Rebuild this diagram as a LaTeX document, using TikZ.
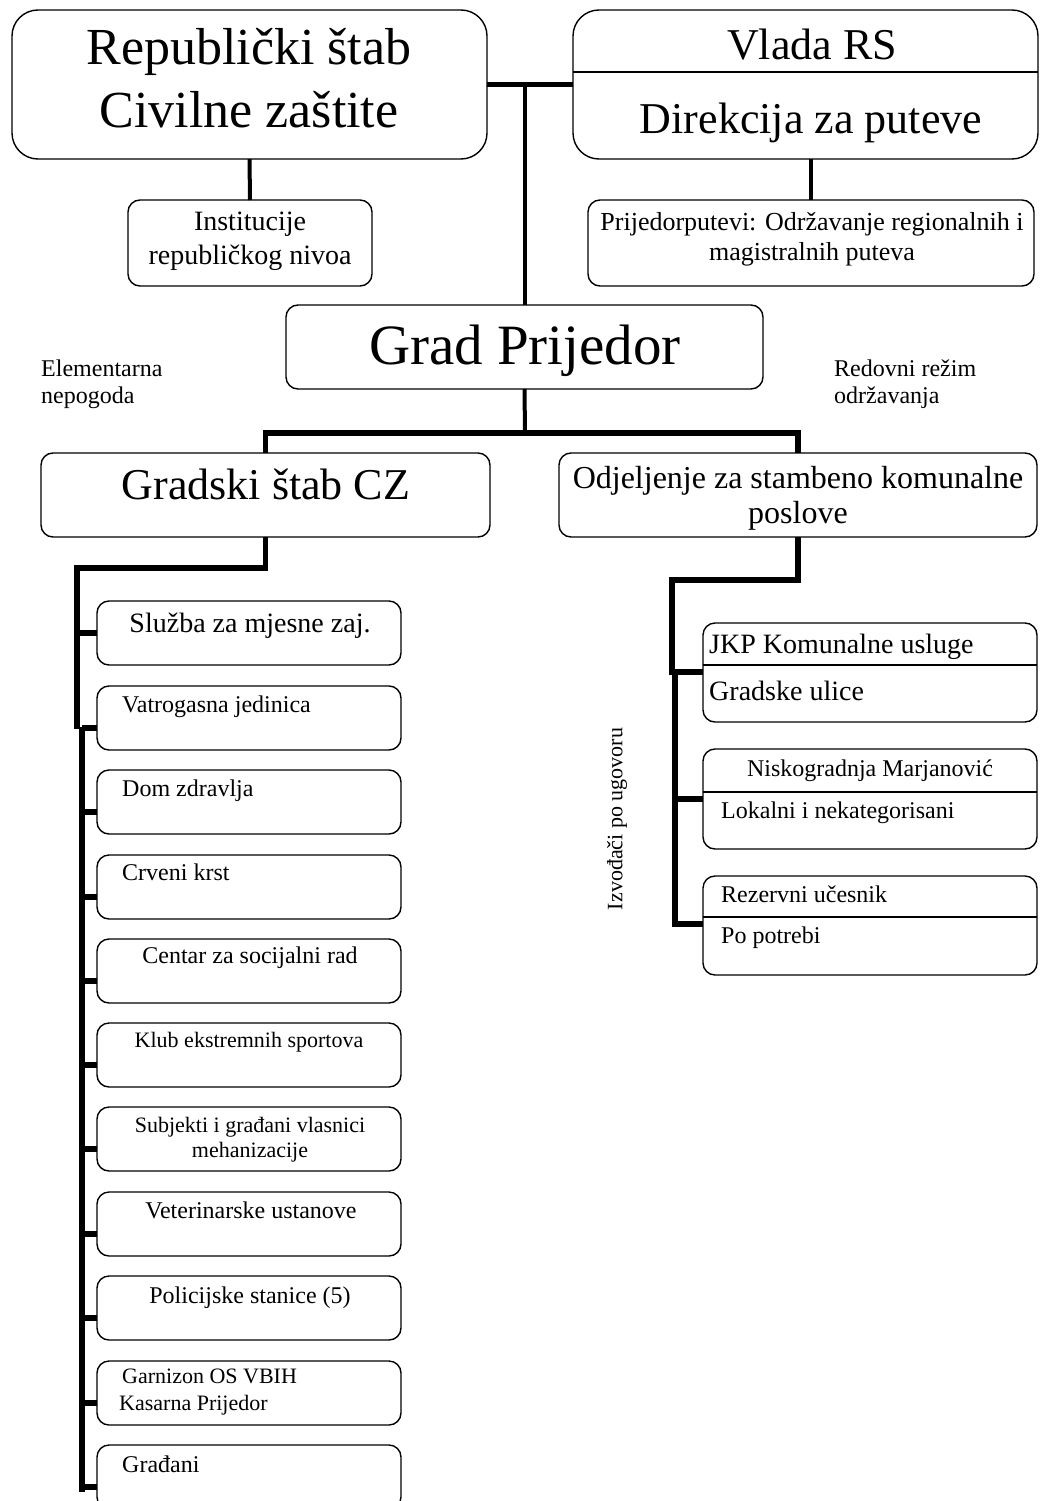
\documentclass[tikz,border=0pt]{standalone}
\usepackage{fontspec}
\setmainfont{Liberation Serif}
\newcommand\myfs[1]{\fontsize{#1}{#1}\selectfont}
\begin{document}
\begin{tikzpicture}[x=1pt,y=-1pt,
  box/.style={draw, line width=1.4pt, rounded corners=12pt, inner sep=0pt, outer sep=0pt, anchor=north west},
  bigbox/.style={box, rounded corners=26pt},
  lbox/.style={box, minimum width=304pt, minimum height=64pt},
  rbox/.style={box, minimum width=334pt, minimum height=99pt},
  conn/.style={line width=5.5pt},
  thin conn/.style={line width=4pt},
  divider/.style={line width=1.4pt},
  t/.style={inner sep=0pt, anchor=base},
  tl/.style={inner sep=0pt, anchor=base west}]
\useasboundingbox (0,0) rectangle (1039,1501);

% ---------- top level ----------
\node[bigbox, minimum width=475pt, minimum height=149pt] (rep) at (12,10) {};
\node[t] (rep1) at (249,65) {\myfs{52}Republički štab};
\node[t] (rep2) at (249,128) {\myfs{52}Civilne zaštite};

\node[bigbox, minimum width=465pt, minimum height=149pt] (vlada) at (573,10) {};
\draw[divider] (vlada.west |- 0,72) -- (vlada.east |- 0,72);
\node[t] (vl1) at (812,60) {\myfs{44}Vlada RS};
\node[t] (vl2) at (811,133) {\myfs{44}Direkcija za puteve};

\node[box, minimum width=244pt, minimum height=86pt] (inst) at (128,200) {};
\node[t] (in1) at (250,230) {\myfs{28}Institucije};
\node[t] (in2) at (250,264) {\myfs{28}republičkog nivoa};

\node[box, minimum width=446pt, minimum height=86pt] (put) at (588,200) {};
\node[t] (pu1) at (812,230) {\myfs{26}Prijedorputevi: Održavanje regionalnih i};
\node[t] (pu2) at (812,260) {\myfs{26}magistralnih puteva};

\node[box, minimum width=477pt, minimum height=84pt] (grad) at (286,305) {};
\node[t] (gr) at (525,364) {\myfs{57}Grad Prijedor};

\node[tl] (el1) at (41,376) {\myfs{24}Elementarna};
\node[tl] (el2) at (41,403) {\myfs{24}nepogoda};
\node[tl] (re1) at (834,376) {\myfs{24}Redovni režim};
\node[tl] (re2) at (834,403) {\myfs{24}održavanja};

\node[box, minimum width=449pt, minimum height=84pt] (gradski) at (41,453) {};
\node[t] (gs) at (266,499) {\myfs{44}Gradski štab CZ};

\node[box, minimum width=478pt, minimum height=84pt] (odj) at (559,453) {};
\node[t] (od1) at (798,488) {\myfs{32}Odjeljenje za stambeno komunalne};
\node[t] (od2) at (798,523) {\myfs{32}poslove};

% top connectors
\draw[conn] (rep.east) -- (vlada.west);
\draw[thin conn] (grad.north) -- (grad.north |- rep.east);
\draw[thin conn] (rep.south) -- (inst.north);
\draw[thin conn] (put.north) -- (put.north |- vlada.south);
\coordinate (j1) at (525,433);
\draw[thin conn] (grad.south) -- (j1);
\draw[conn] (gradski.north) |- (j1) -| (odj.north);

% ---------- left column ----------
\node[lbox] (l1) at (97,601) {};
\node[lbox] (l2) at (97,686) {};
\node[lbox] (l3) at (97,770) {};
\node[lbox] (l4) at (97,855) {};
\node[lbox] (l5) at (97,939) {};
\node[lbox] (l6) at (97,1023) {};
\node[lbox] (l7) at (97,1107) {};
\node[lbox] (l8) at (97,1192) {};
\node[lbox] (l9) at (97,1276) {};
\node[lbox] (l10) at (97,1361) {};
\node[lbox] (l11) at (97,1445) {};

\node[t] (tl1) at (250,632) {\myfs{28}Služba za mjesne zaj.};
\node[tl] (tl2) at (122,712) {\myfs{24}Vatrogasna jedinica};
\node[tl] (tl3) at (122,796) {\myfs{24}Dom zdravlja};
\node[tl] (tl4) at (122,880) {\myfs{24}Crveni krst};
\node[t] (tl5) at (250,963) {\myfs{24}Centar za socijalni rad};
\node[t] (tl6) at (249,1047) {\myfs{22}Klub ekstremnih sportova};
\node[t] (tl7a) at (250,1132) {\myfs{22}Subjekti i građani vlasnici};
\node[t] (tl7b) at (250,1157) {\myfs{22}mehanizacije};
\node[t] (tl8) at (251,1218) {\myfs{24}Veterinarske ustanove};
\node[t] (tl9) at (250,1303) {\myfs{24}Policijske stanice (5)};
\node[tl] (tl10a) at (122,1383) {\myfs{22}Garnizon OS VBIH};
\node[tl] (tl10b) at (119,1410) {\myfs{22}Kasarna Prijedor};
\node[tl] (tl11) at (122,1472) {\myfs{24}Građani};

\coordinate (ls1) at (77,568);
\coordinate (ls2) at (77,729);
\coordinate (ls3) at (82,727);
\coordinate (ls4) at (82,1492);
\draw[conn] (gradski.south) |- (ls1) -- (ls2);
\draw[conn] (ls3) -- (ls4);
\draw[conn] (l1.west) -- ++(-20,0);
\foreach \b in {l2,l3,l4,l5,l6,l7,l8,l9,l10,l11}
  \draw[conn] ([yshift=-42pt]\b.north west) -- ++(-15,0);

% ---------- right column ----------
\node[rbox] (r1) at (703,623) {};
\draw[divider] (r1.west |- 0,665) -- (r1.east |- 0,665);
\node[tl] (tr1a) at (709,653) {\myfs{28}JKP Komunalne usluge};
\node[tl] (tr1b) at (709,700) {\myfs{28}Gradske ulice};

\node[rbox, minimum height=100pt] (r2) at (703,749) {};
\draw[divider] (r2.west |- 0,792) -- (r2.east |- 0,792);
\node[t] (tr2a) at (870,776) {\myfs{24}Niskogradnja Marjanović};
\node[tl] (tr2b) at (721,818) {\myfs{24}Lokalni i nekategorisani};

\node[rbox] (r3) at (703,876) {};
\draw[divider] (r3.west |- 0,917) -- (r3.east |- 0,917);
\node[tl] (tr3a) at (721,902) {\myfs{24}Rezervni učesnik};
\node[tl] (tr3b) at (721,943) {\myfs{24}Po potrebi};

\node[inner sep=0pt, rotate=90] (izv) at (617,819) {\myfs{22}Izvođači po ugovoru};

\coordinate (rs1) at (672,580);
\coordinate (rs2) at (672,675);
\coordinate (rs3) at (675,672);
\coordinate (rs4) at (675,927);
\draw[conn] (odj.south) |- (rs1) -- (rs2);
\draw[conn] (rs3) -- (rs4);
\draw[conn] ([yshift=-49pt]r1.north west) -- ++(-28,0);
\draw[conn] ([yshift=-50pt]r2.north west) -- ++(-28,0);
\draw[conn] ([yshift=-48pt]r3.north west) -- ++(-28,0);
\end{tikzpicture}
\end{document}
